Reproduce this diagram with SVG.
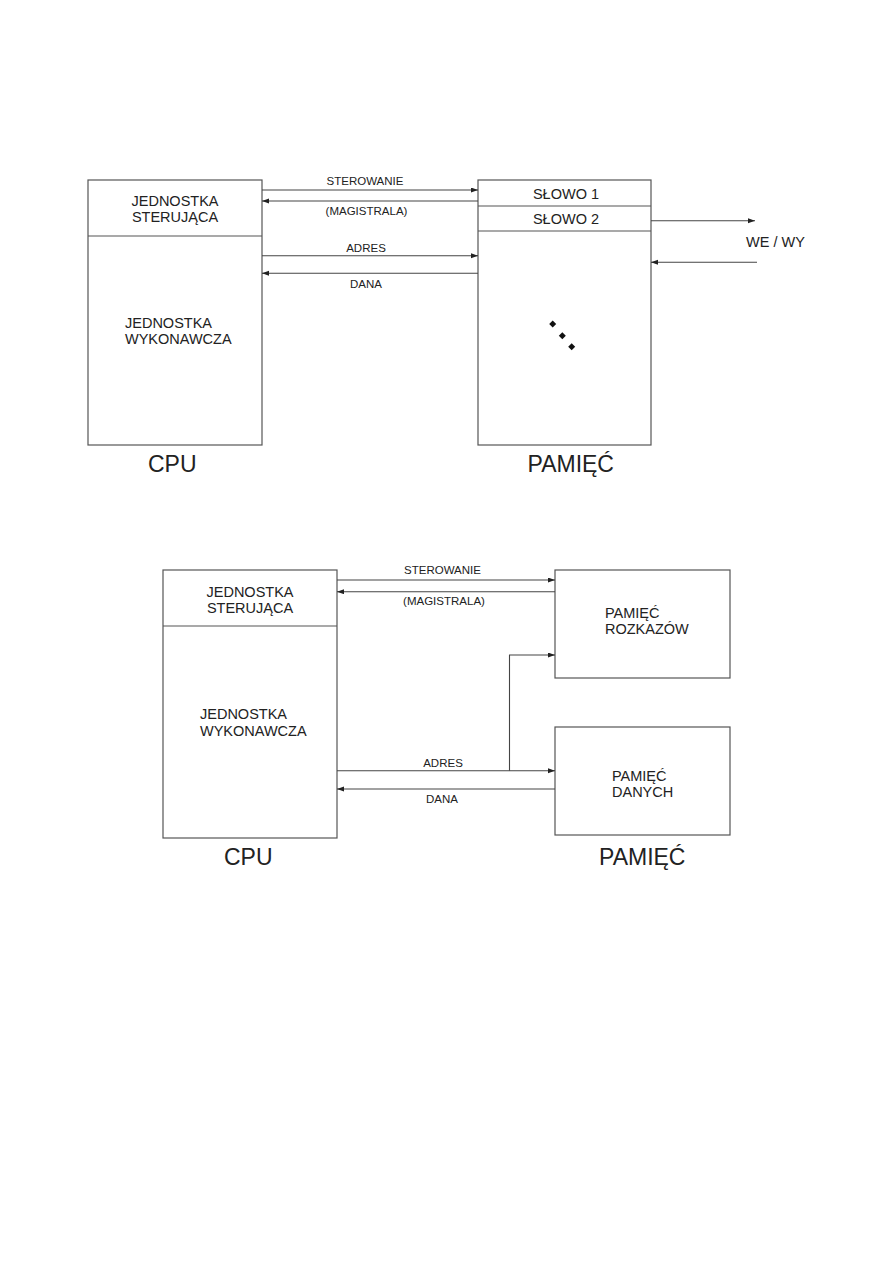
<svg xmlns="http://www.w3.org/2000/svg" width="893" height="1263" viewBox="0 0 893 1263">
<defs>
<style>
.box{fill:none;stroke:#555;stroke-width:1.2}
.div{stroke:#555;stroke-width:1.2}
.con{fill:none;stroke:#444;stroke-width:1.1}
.arr{marker-end:url(#ah)}
text{font-family:"Liberation Sans",Arial,sans-serif;fill:#222}
.lbl{font-size:14.5px}
.sm{font-size:11.5px;text-anchor:middle}
.big{font-size:23px}
.mid{text-anchor:middle}
</style>
<marker id="ah" markerUnits="userSpaceOnUse" markerWidth="8" markerHeight="6" refX="7" refY="2.5" orient="auto">
<path d="M0,0 L7,2.5 L0,5 z" fill="#222"/>
</marker>
</defs>
<rect width="893" height="1263" fill="#fff"/>

<!-- TOP DIAGRAM -->
<g id="cpu1">
<rect class="box" x="88" y="180" width="174" height="265"/>
<line class="div" x1="88" y1="236" x2="262" y2="236"/>
<text class="lbl mid" x="175" y="205.5">JEDNOSTKA</text>
<text class="lbl mid" x="175" y="221.5">STERUJĄCA</text>
<text class="lbl" x="125" y="327.7">JEDNOSTKA</text>
<text class="lbl" x="125" y="343.5">WYKONAWCZA</text>
<text class="big" x="148" y="471.7">CPU</text>
</g>
<g id="mem1">
<rect class="box" x="478" y="180" width="173" height="265"/>
<line class="div" x1="478" y1="206" x2="651" y2="206"/>
<line class="div" x1="478" y1="231" x2="651" y2="231"/>
<text class="lbl mid" x="566" y="198.5">SŁOWO 1</text>
<text class="lbl mid" x="566" y="223.5">SŁOWO 2</text>
<path d="M552.7,320.5 L556.2,324 L552.7,327.5 L549.2,324 z" fill="#111"/>
<path d="M562.3,332.2 L565.8,335.7 L562.3,339.2 L558.8,335.7 z" fill="#111"/>
<path d="M571.7,343.2 L575.2,346.7 L571.7,350.2 L568.2,346.7 z" fill="#111"/>
<text class="big" x="527.5" y="471.7">PAMIĘĆ</text>
</g>
<g id="io1">
<text class="lbl" x="746" y="246.5">WE / WY</text>
</g>

<!-- BOTTOM DIAGRAM -->
<g id="cpu2">
<rect class="box" x="163" y="570" width="174" height="268"/>
<line class="div" x1="163" y1="626" x2="337" y2="626"/>
<text class="lbl mid" x="250" y="597">JEDNOSTKA</text>
<text class="lbl mid" x="250" y="613">STERUJĄCA</text>
<text class="lbl" x="200" y="719">JEDNOSTKA</text>
<text class="lbl" x="200" y="735.5">WYKONAWCZA</text>
<text class="big" x="224" y="865">CPU</text>
</g>
<g id="mem2-rozkazy">
<rect class="box" x="555" y="570" width="175" height="108"/>
<text class="lbl" x="605" y="618">PAMIĘĆ</text>
<text class="lbl" x="605" y="634">ROZKAZÓW</text>
</g>
<g id="mem2-dane">
<rect class="box" x="555" y="727" width="175" height="108"/>
<text class="lbl" x="612" y="781">PAMIĘĆ</text>
<text class="lbl" x="612" y="797">DANYCH</text>
</g>
<g id="mem2-label">
<text class="big" x="599" y="865">PAMIĘĆ</text>
</g>

<g id="connectors">
<!-- top -->
<line class="con arr" x1="262" y1="190" x2="478" y2="190"/>
<line class="con arr" x1="478" y1="201" x2="262" y2="201"/>
<line class="con arr" x1="262" y1="255.7" x2="478" y2="255.7"/>
<line class="con arr" x1="478" y1="273.3" x2="262" y2="273.3"/>
<line class="con arr" x1="651" y1="220.7" x2="755" y2="220.7"/>
<line class="con arr" x1="757" y1="262.3" x2="651" y2="262.3"/>
<text class="sm" x="365" y="184.5">STEROWANIE</text>
<text class="sm" x="366.5" y="215">(MAGISTRALA)</text>
<text class="sm" x="366" y="252">ADRES</text>
<text class="sm" x="366" y="287.5">DANA</text>
<!-- bottom -->
<line class="con arr" x1="337" y1="580" x2="555" y2="580"/>
<line class="con arr" x1="555" y1="591.7" x2="337" y2="591.7"/>
<line class="con arr" x1="337" y1="770.7" x2="555" y2="770.7"/>
<polyline class="con arr" points="509.5,770.7 509.5,655 555,655"/>
<line class="con arr" x1="555" y1="789" x2="337" y2="789"/>
<text class="sm" x="442.5" y="574.3">STEROWANIE</text>
<text class="sm" x="444" y="605">(MAGISTRALA)</text>
<text class="sm" x="443" y="766.5">ADRES</text>
<text class="sm" x="442" y="802.5">DANA</text>
</g>
</svg>
